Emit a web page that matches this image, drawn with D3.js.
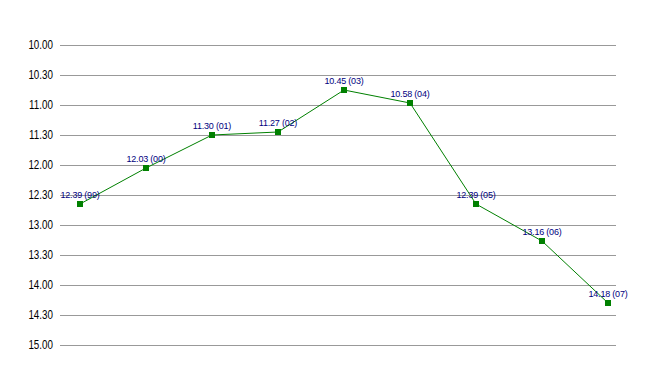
<!DOCTYPE html>
<html>
<head>
<meta charset="utf-8">
<script src="https://cdn.jsdelivr.net/npm/d3@7"></script>
<style>
  body { margin: 0; background: #fff; }
  .tick-label { font-family: "Liberation Sans Narrow", "Liberation Sans", Arial, sans-serif; font-size: 12px; fill: #000; }
  .pt-label { font-family: "Liberation Sans", Arial, sans-serif; font-size: 9px; letter-spacing: -0.2px; fill: #000080; }
</style>
</head>
<body>
<svg id="chart"></svg>
<script>
// years (2-digit) and times as min.sec
const years = ['99', '00', '01', '02', '03', '04', '05', '06', '07'];
const times = ['12.39', '12.03', '11.30', '11.27', '10.45', '10.58', '12.39', '13.16', '14.18'];
const tickLabels = ['10.00', '10.30', '11.00', '11.30', '12.00', '12.30', '13.00', '13.30', '14.00', '14.30', '15.00'];

// "12.39" -> seconds
const toSec = s => {
    let [m, sec] = s.split('.');
    return (+m) * 60 + (+sec);
};

const width = 656, height = 375;
const squeeze = 0.82; // narrow look for the axis font

const svg = d3.select('#chart')
    .attr('width', width)
    .attr('height', height);

const data = years.map((y, i) => ({ year: y, time: times[i], sec: toSec(times[i]) }));

const xScale = d3.scalePoint()
    .domain(years)
    .range([80, 608]);

const yScale = d3.scaleLinear()
    .domain([toSec('10.00'), toSec('15.00')])
    .range([45, 345]);

// gridlines + tick labels
const yAxis = d3.axisLeft(yScale)
    .tickValues(tickLabels.map(toSec))
    .tickFormat((d, i) => tickLabels[i])
    .tickSize(-(616 - 60))
    .tickPadding(7);

const yAxisGroup = svg.append('g')
    .attr('transform', 'translate(60,0)')
    .attr('font-family', null)
    .attr('font-size', null)
    .call(yAxis);

yAxisGroup.select('.domain').remove();
yAxisGroup.selectAll('.tick line')
    .attr('stroke', '#999')
    .attr('stroke-width', 1)
    .attr('shape-rendering', 'crispEdges');
yAxisGroup.selectAll('.tick text')
    .attr('class', 'tick-label')
    .attr('x', -7 / squeeze)
    .attr('transform', `scale(${squeeze},1)`);
yAxisGroup.attr('font-family', null).attr('font-size', null);

// line
const line = d3.line()
    .x(d => xScale(d.year))
    .y(d => yScale(d.sec));

svg.append('path')
    .datum(data)
    .attr('fill', 'none')
    .attr('stroke', '#008000')
    .attr('stroke-width', 1)
    .attr('d', line);

// markers
svg.selectAll('.marker')
    .data(data)
    .join('rect')
        .attr('class', 'marker')
        .attr('x', d => xScale(d.year) - 3)
        .attr('y', d => yScale(d.sec) - 3)
        .attr('width', 6)
        .attr('height', 6)
        .attr('fill', '#008000')
        .attr('shape-rendering', 'crispEdges');

// point labels
svg.selectAll('.pt-label')
    .data(data)
    .join('text')
        .attr('class', 'pt-label')
        .attr('text-anchor', 'middle')
        .attr('x', d => xScale(d.year))
        .attr('y', d => yScale(d.sec) - 6)
        .text(d => `${d.time} (${d.year})`);
</script>
</body>
</html>
